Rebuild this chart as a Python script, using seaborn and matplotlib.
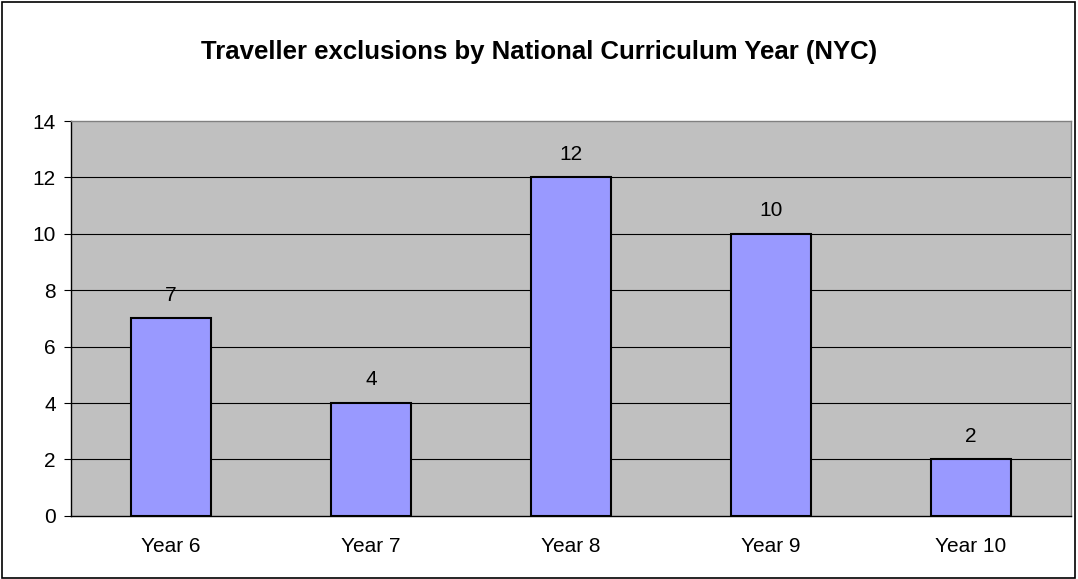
import matplotlib

matplotlib.use("Agg")

import matplotlib.pyplot as plt
import pandas as pd
import seaborn as sns
from matplotlib.patches import Rectangle

years = ["Year 6", "Year 7", "Year 8", "Year 9", "Year 10"]
exclusions = [7, 4, 12, 10, 2]
y_ticks = [0, 2, 4, 6, 8, 10, 12, 14]

sns.set_theme(style="white")
plt.rcParams["font.family"] = ["Liberation Sans", "DejaVu Sans"]

df = pd.DataFrame({"year": years, "exclusions": exclusions})

fig = plt.figure(figsize=(10.78, 5.79), dpi=100, facecolor="white")
ax = fig.add_axes([0.066, 0.109, 0.9275, 0.682])
ax.set_facecolor("#C0C0C0")

ax.set_axisbelow(True)
for v in y_ticks[1:-1]:
    ax.axhline(v, color="black", linewidth=0.8, zorder=0)

sns.barplot(data=df, x="year", y="exclusions", color="#9999FF", width=0.4,
            edgecolor="black", linewidth=1.5, saturation=1, ax=ax, zorder=2)

for i, v in enumerate(exclusions):
    ax.annotate(str(v), (i, v), xytext=(0, 10), textcoords="offset points",
                ha="center", va="bottom", fontsize=15, color="black")

ax.set_xlim(-0.5, len(years) - 0.5)
ax.set_ylim(0, 14)
ax.set_yticks(y_ticks)
ax.set_xticks(range(len(years)))
ax.set_xticklabels(years)
ax.set_xticks([i - 0.5 for i in range(len(years) + 1)], minor=True)
ax.tick_params(axis="x", which="major", length=0, pad=15, labelsize=15, colors="black")
ax.tick_params(axis="x", which="minor", length=5, width=0.8, direction="out", color="black")
ax.tick_params(axis="y", length=5, width=0.8, direction="out", color="black", pad=6, labelsize=15, labelcolor="black", left=True)
ax.set_xlabel("")
ax.set_ylabel("")

for side in ("left", "bottom"):
    ax.spines[side].set_color("black")
    ax.spines[side].set_linewidth(1)
for side in ("top", "right"):
    ax.spines[side].set_color("#808080")
    ax.spines[side].set_linewidth(1)

fig.text(0.5, 0.91, "Traveller exclusions by National Curriculum Year (NYC)",
         ha="center", va="center", fontsize=18.5, fontweight="bold", color="black")

fig.patches.append(Rectangle((0.0015, 0.002), 0.996, 0.995, transform=fig.transFigure,
                             fill=False, edgecolor="black", linewidth=1.2))

fig.savefig("out.png", dpi=100, facecolor="white")
